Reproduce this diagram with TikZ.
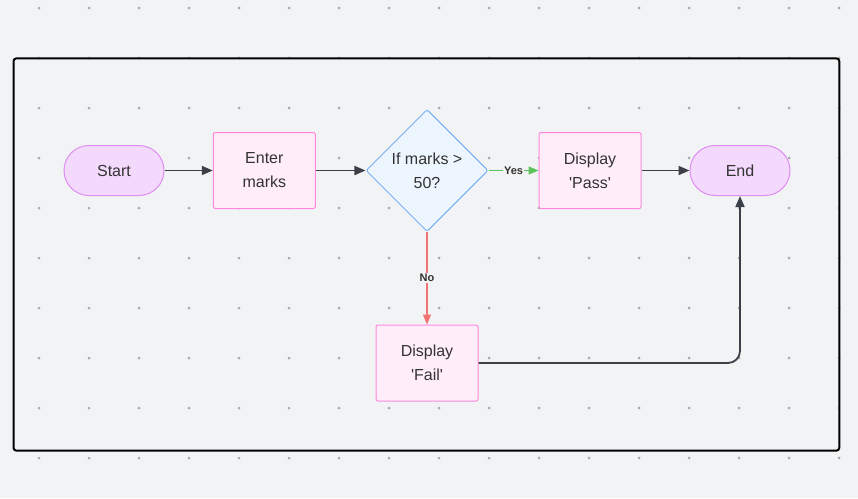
\documentclass[tikz,border=0pt]{standalone}
\usepackage{fontspec}
\setmainfont{Liberation Sans}
\usetikzlibrary{arrows.meta,shapes.geometric}
\definecolor{bg}{HTML}{F2F3F5}
\definecolor{dotc}{HTML}{A8A9AC}
\definecolor{termfill}{HTML}{F3D9FC}
\definecolor{termdraw}{HTML}{DE8DF2}
\definecolor{procfill}{HTML}{FFEEFA}
\definecolor{procdraw}{HTML}{FF88DC}
\definecolor{decfill}{HTML}{EDF5FE}
\definecolor{decdraw}{HTML}{78B1F4}
\definecolor{linec}{HTML}{3B3F47}
\definecolor{yesc}{HTML}{5CC35C}
\definecolor{noc}{HTML}{F07272}
\definecolor{txt}{HTML}{333333}
\tikzset{
  base/.style={font=\fontsize{16}{24}\selectfont, text=txt, align=center, inner sep=0pt, line width=1pt},
  term/.style={base, rectangle, rounded corners=25pt, fill=termfill, draw=termdraw, minimum width=100pt, minimum height=50pt},
  proc/.style={base, rectangle, rounded corners=2pt, fill=procfill, draw=procdraw, minimum width=102pt, minimum height=76pt},
  dec/.style={base, diamond, aspect=1, rounded corners=2pt, fill=decfill, draw=decdraw, minimum width=122pt, minimum height=122pt},
  conn/.style={draw=linec, line width=1.8pt, -{Triangle[length=11pt,width=9pt]}},
  lbl/.style={font=\bfseries\fontsize{11}{13}\selectfont, text=txt, fill=bg, inner sep=1pt}
}
\begin{document}
\begin{tikzpicture}[x=1pt,y=-1pt]
\useasboundingbox (0,0) rectangle (858,498);
\fill[bg] (0,0) rectangle (858,498);
\foreach \i in {0,...,16} \foreach \j in {0,...,9} \fill[dotc] (39+50*\i, 8+50*\j) circle (1.5pt);
\draw[black, line width=2pt, rounded corners=3pt] (13.5,58.3) rectangle (839.3,450.7);

\node[term] (start) at (114,170.5) {Start};
\node[proc] (enter) at (264.3,170.5) {Enter\\marks};
\node[dec] (dec) at (427,170.5) {If marks >\\50?};
\node[proc] (pass) at (590,170.5) {Display\\\textquotesingle Pass\textquotesingle};
\node[term] (end) at (740,170.5) {End};
\node[proc] (fail) at (427,363) {Display\\\textquotesingle Fail\textquotesingle};

\draw[conn] (start) -- (enter);
\draw[conn] (enter) -- (dec);
\draw[conn, line width=1.2pt, draw=yesc, -{Triangle[length=10pt,width=8pt,fill=yesc]}] (dec) -- node[lbl] {Yes} (pass);
\draw[conn, line width=1.2pt, draw=noc, -{Triangle[length=10pt,width=8pt,fill=noc]}] (dec) -- node[lbl] {No} (fail);
\draw[conn] (pass) -- (end);
\draw[conn, rounded corners=12pt] (fail.east) -| (end.south);
\end{tikzpicture}
\end{document}
